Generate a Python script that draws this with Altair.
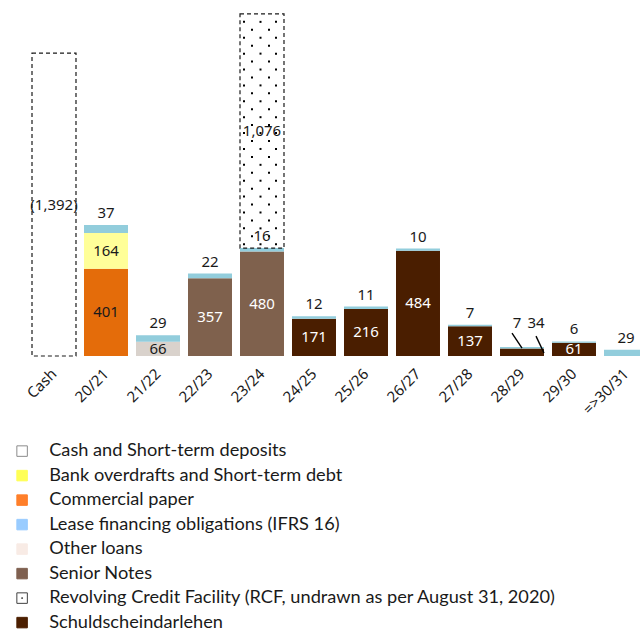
import altair as alt
import pandas as pd
import numpy as np

# ---------------- data ----------------
categories = ["Cash", "20/21", "21/22", "22/23", "23/24", "24/25", "25/26",
              "26/27", "27/28", "28/29", "29/30", "=>30/31"]

cash             = [1392, 0, 0, 0, 0, 0, 0, 0, 0, 0, 0, 0]
commercial_paper = [0, 401, 0, 0, 0, 0, 0, 0, 0, 0, 0, 0]
bank_overdrafts  = [0, 164, 0, 0, 0, 0, 0, 0, 0, 0, 0, 0]
other_loans      = [0, 0, 66, 0, 0, 0, 0, 0, 0, 0, 0, 0]
senior_notes     = [0, 0, 0, 357, 480, 0, 0, 0, 0, 0, 0, 0]
schuldschein     = [0, 0, 0, 0, 0, 171, 216, 484, 137, 34, 61, 0]
lease            = [0, 37, 29, 22, 16, 12, 11, 10, 7, 7, 6, 29]
rcf              = [0, 0, 0, 0, 1076, 0, 0, 0, 0, 0, 0, 0]

S_CASH = "Cash and Short-term deposits"
S_BANK = "Bank overdrafts and Short-term debt"
S_CP = "Commercial paper"
S_LEASE = "Lease financing obligations (IFRS 16)"
S_OTHER = "Other loans"
S_SENIOR = "Senior Notes"
S_RCF = "Revolving Credit Facility (RCF, undrawn as per August 31, 2020)"
S_SSD = "Schuldscheindarlehen"

legend_order = [S_CASH, S_BANK, S_CP, S_LEASE, S_OTHER, S_SENIOR, S_RCF, S_SSD]
legend_fill = ["#ffffff", "#ffff55", "#ff7f2a", "#99ccff", "#f8ebe5", "#7f6050", "#ffffff", "#4c1f00"]
legend_stroke = ["#8c8c8c", "#ffff55", "#ff7f2a", "#99ccff", "#f8ebe5", "#7f6050", "#404040", "#4c1f00"]
rcf_symbol = "M-1,-1H1V1H-1Z M-0.08,-0.08H0.08V0.08H-0.08Z"
legend_shape = ["square"] * 6 + [rcf_symbol, "square"]

# stacking order (bottom -> top) and bar colours
stack_series = [(S_CASH, cash), (S_CP, commercial_paper), (S_BANK, bank_overdrafts),
                (S_OTHER, other_loans), (S_SENIOR, senior_notes), (S_SSD, schuldschein),
                (S_LEASE, lease), (S_RCF, rcf)]
bar_domain = [S_CP, S_BANK, S_OTHER, S_SENIOR, S_SSD, S_LEASE]
bar_range = ["#e46c0a", "#ffff99", "#d9d2cc", "#7f614d", "#4a1e00", "#92cddc"]
white_text = {S_SENIOR, S_SSD}
inner_series = {S_CP, S_BANK, S_OTHER, S_SENIOR, S_SSD}

rows = []
for i, cat in enumerate(categories):
    base = 0
    for name, vals in stack_series:
        v = vals[i]
        if v == 0:
            continue
        rows.append(dict(cat=cat, series=name, value=v, y0=base, y1=base + v,
                         mid=base + v / 2,
                         kind="dashed" if name in (S_CASH, S_RCF) else "solid",
                         label=(f"({v:,})" if name == S_CASH else f"{v:,}"),
                         tcolor="#ffffff" if name in white_text else "#1a1a1a"))
        base += v
df = pd.DataFrame(rows)

special_cat = "28/29"
top_2829 = df[df["cat"] == special_cat]["y1"].max()

inner = df[(df["series"].isin(inner_series)) & (df["cat"] != special_cat)]
center_labels = df[df["series"].isin([S_CASH, S_RCF])]
lease_labels = df[(df["series"] == S_LEASE) & (df["cat"] != special_cat)]

# ---------------- encodings ----------------
FONT = "Noto Sans"
x_enc = alt.X("cat:N", sort=categories,
              scale=alt.Scale(domain=categories, range=[0, 624],
                              paddingInner=0.154, paddingOuter=0.077),
              axis=alt.Axis(title=None, labelAngle=315, domain=False, ticks=False,
                            labelPadding=15, labelFont=FONT, labelFontSize=15,
                            labelColor="#1a1a1a", labelAlign="right",
                            labelBaseline="middle"))
y_scale = alt.Scale(domain=[0, 1590], nice=False, zero=True)

bars = alt.Chart(df).transform_filter(alt.datum.kind == "solid").mark_bar().encode(
    x=x_enc,
    y=alt.Y("y0:Q", scale=y_scale, axis=None),
    y2="y1:Q",
    color=alt.Color("series:N", scale=alt.Scale(domain=bar_domain, range=bar_range),
                    legend=None),
)

# dotted texture of the RCF bar
rcf_row = df[df["series"] == S_RCF].iloc[0]
rcf_cat = rcf_row["cat"]
step = 36.5
ys = np.arange(rcf_row["y1"] - step, rcf_row["y0"] + step * 0.3, -step)
rows_a = pd.DataFrame({"cat": rcf_cat, "y": ys[0::2]})
rows_b = pd.DataFrame({"cat": rcf_cat, "y": ys[1::2]})
dots = []
for frame, offsets in ((rows_a, [-18, -1.5, 14]), (rows_b, [-10, 7])):
    for off in offsets:
        dots.append(alt.Chart(frame).mark_square(size=4, color="#000000", opacity=1,
                                                 xOffset=off).encode(
            x=x_enc, y=alt.Y("y:Q", scale=y_scale, axis=None)))

dashed = alt.Chart(df).transform_filter(alt.datum.kind == "dashed").mark_bar(
    fill="transparent", stroke="#1a1a1a", strokeWidth=1.2, strokeDash=[4, 3]
).encode(x=x_enc, y=alt.Y("y0:Q", scale=y_scale, axis=None), y2="y1:Q")

text_inner = alt.Chart(inner).mark_text(font=FONT, fontSize=15, baseline="middle").encode(
    x=x_enc, y=alt.Y("mid:Q", scale=y_scale, axis=None),
    text="label:N", color=alt.Color("tcolor:N", scale=None))

text_center = alt.Chart(center_labels).mark_text(font=FONT, fontSize=15, baseline="middle",
                                                 color="#1a1a1a").encode(
    x=x_enc, y=alt.Y("mid:Q", scale=y_scale, axis=None), text="label:N")

text_lease = alt.Chart(lease_labels).mark_text(font=FONT, fontSize=15, baseline="bottom",
                                               dy=-4, color="#1a1a1a").encode(
    x=x_enc, y=alt.Y("y1:Q", scale=y_scale, axis=None), text="label:N")

# 28/29 labels with leader lines
sp = pd.DataFrame({"cat": [special_cat], "top": [top_2829], "zero": [0],
                   "lease": [f"{lease[9]}"], "ssd": [f"{schuldschein[9]}"]})
lab7 = alt.Chart(sp).mark_text(font=FONT, fontSize=15, baseline="middle", dx=-5, dy=-24,
                               color="#1a1a1a").encode(
    x=x_enc, y=alt.Y("top:Q", scale=y_scale, axis=None), text="lease:N")
lab34 = alt.Chart(sp).mark_text(font=FONT, fontSize=15, baseline="middle", dx=14, dy=-24,
                                color="#1a1a1a").encode(
    x=x_enc, y=alt.Y("top:Q", scale=y_scale, axis=None), text="ssd:N")
lead1 = alt.Chart(sp).mark_rule(color="#000000", strokeWidth=1.4, xOffset=-10, x2Offset=0,
                                yOffset=-14, y2Offset=1).encode(
    x=x_enc, x2="cat:N", y=alt.Y("top:Q", scale=y_scale, axis=None), y2="top:Q")
lead2 = alt.Chart(sp).mark_rule(color="#000000", strokeWidth=1.4, xOffset=14, x2Offset=22,
                                yOffset=-11, y2Offset=-3).encode(
    x=x_enc, x2="cat:N", y=alt.Y("top:Q", scale=y_scale, axis=None), y2="zero:Q")

# legend carrier (points placed off canvas)
legend_df = pd.DataFrame({"series": legend_order})
leg = alt.Legend(title=None, orient="none", legendX=-15, legendY=432, padding=0,
                 labelFont="Lato", labelFontSize=18.2, labelColor="#1a1a1a",
                 labelOffset=18, symbolSize=110, symbolStrokeWidth=1,
                 symbolOpacity=1, rowPadding=5.5, labelLimit=700)
legend_layer = alt.Chart(legend_df).mark_point(filled=True, size=110, strokeWidth=1,
                                               opacity=1).encode(
    x=alt.value(-2000), y=alt.value(-2000),
    fill=alt.Fill("series:N", scale=alt.Scale(domain=legend_order, range=legend_fill),
                  legend=leg, sort=legend_order),
    stroke=alt.Stroke("series:N", scale=alt.Scale(domain=legend_order, range=legend_stroke),
                      legend=leg, sort=legend_order),
    shape=alt.Shape("series:N", scale=alt.Scale(domain=legend_order, range=legend_shape),
                    legend=leg, sort=legend_order),
)

chart = alt.layer(bars, *dots, dashed, text_inner, text_center, text_lease,
                  lab7, lab34, lead1, lead2, legend_layer).properties(
    width=612, height=346,
    autosize=alt.AutoSizeParams(type="none"),
    padding={"left": 28, "right": 0, "top": 10, "bottom": 275},
).configure_view(stroke=None)

chart.save("out.html", embed_options={"renderer": "svg", "actions": False})
